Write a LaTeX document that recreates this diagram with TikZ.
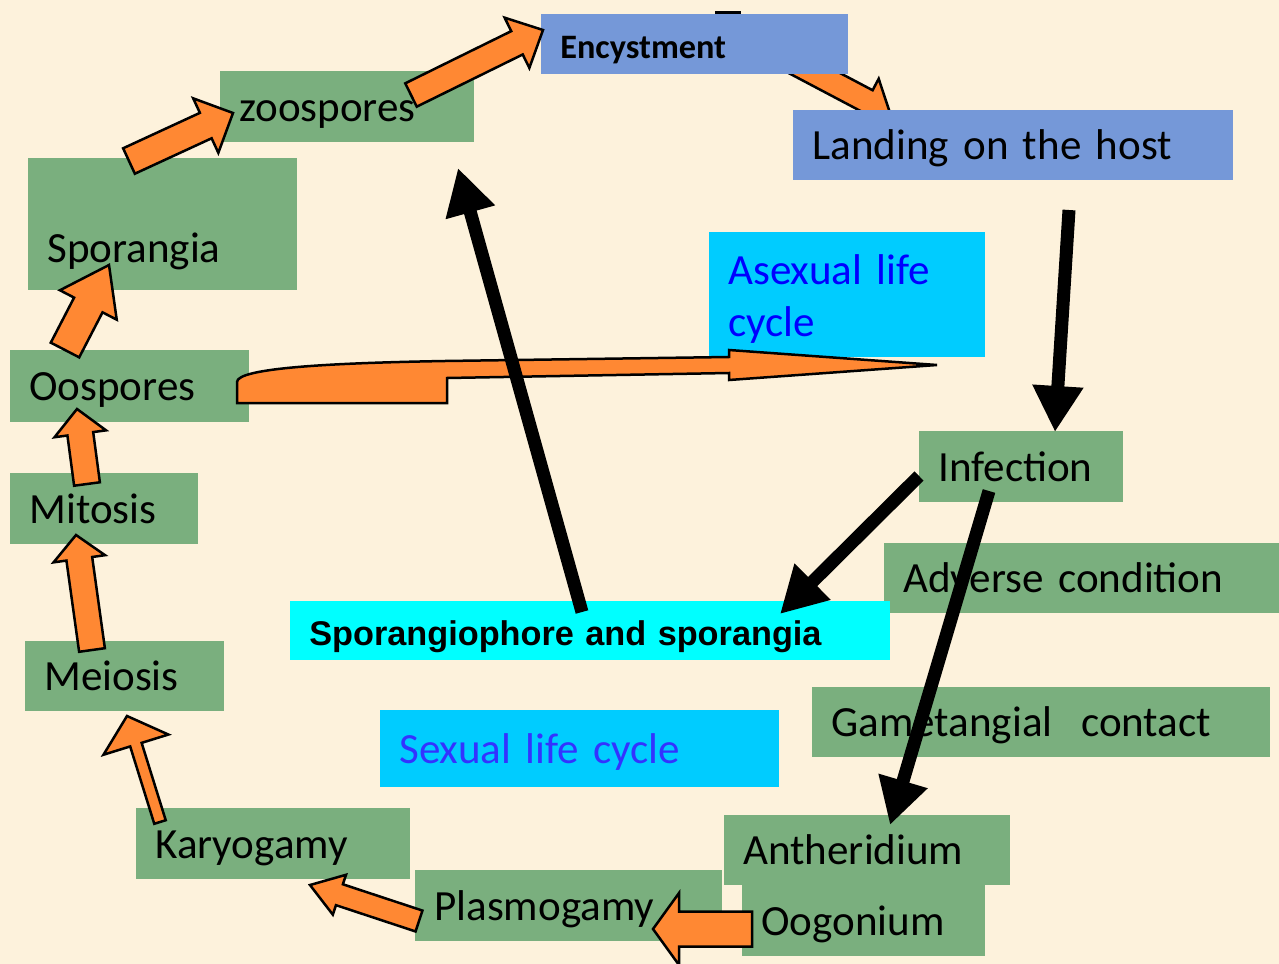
\documentclass[tikz,border=0pt]{standalone}
\usepackage{fontspec}
\setmainfont{Carlito}
\newfontfamily\arialfont{Liberation Sans}
\usetikzlibrary{arrows.meta,calc}
\newdimen\px \px=0.2mm
\definecolor{bgcream}{RGB}{253,242,220}
\definecolor{boxgreen}{RGB}{122,175,126}
\definecolor{boxblue}{RGB}{117,152,216}
\definecolor{skycyan}{RGB}{0,204,255}
\definecolor{sphcyan}{RGB}{0,255,255}
\definecolor{fatorange}{RGB}{255,136,51}
\definecolor{sexblue}{RGB}{51,51,255}
\tikzset{
    lbl/.style={anchor=north west, inner xsep=19\px, inner ysep=0pt, align=left,
        text height=37\px, text depth=8\px, font=\fontsize{24.5}{29.5}\selectfont}, % box with left text
    stage/.style={lbl, fill=boxgreen},
    host/.style={lbl, fill=boxblue},
    lifecycle/.style={lbl, fill=skycyan},
    fat/.style={fill=fatorange, draw=black, line width=2.5\px, line join=miter}, % orange block arrow
    bigblack/.style={line width=13\px, -{Triangle[length=9.2mm, width=9.6mm]}}
}
% block arrow: tail, tip, half shaft, half head, head length (in px)
\newcommand\fatarrow[5]{%
  \draw[fat] ($(#1)!{#3*0.2mm}!90:(#2)$)
    -- ($(#2)!{#5*0.2mm}!(#1)!{#3*0.2mm}!90:(#2)$)
    -- ($(#2)!{#5*0.2mm}!(#1)!{#4*0.2mm}!90:(#2)$)
    -- (#2)
    -- ($(#2)!{#5*0.2mm}!(#1)!{#4*0.2mm}!-90:(#2)$)
    -- ($(#2)!{#5*0.2mm}!(#1)!{#3*0.2mm}!-90:(#2)$)
    -- ($(#1)!{#3*0.2mm}!-90:(#2)$) -- cycle;}
\begin{document}
\begin{tikzpicture}[x=0.2mm, y=-0.2mm]
  \useasboundingbox (0,0) rectangle (1279,964);
  \clip (0,0) rectangle (1279,964);
  \fill[bgcream] (0,0) rectangle (1279,964);

  % arrow ends
  \coordinate (t-enc) at (765,47);   \coordinate (h-land) at (890,113);
  \coordinate (t-oosp) at (65,350);  \coordinate (h-spor) at (109,265);
  \coordinate (t-mit) at (87,484);   \coordinate (h-oosp) at (77,409);
  \coordinate (t-mei) at (92,650);   \coordinate (h-mit) at (76,535);
  \coordinate (t-kar) at (160,822);  \coordinate (h-mei) at (127,716);
  \coordinate (t-plas) at (419,921); \coordinate (h-kar) at (310,885);
  \coordinate (t-oog) at (752,929);  \coordinate (h-plas) at (653,929);
  \coordinate (t-spor) at (129,161); \coordinate (h-zoo) at (233,113);
  \coordinate (t-zoo) at (411,95);   \coordinate (h-enc) at (543,30);
  \coordinate (h-asx) at (937,365);

  % hidden under the blue boxes
  \fatarrow{t-enc}{h-land}{12}{25}{26}

  \node[host, text width=269\px, minimum height=60\px, font=\bfseries\fontsize{19.5}{23}\selectfont] (enc) at (541,14) {Encystment};
  \draw[line width=3\px] (715,13) -- (741,13);
  \node[host, text width=402\px, minimum height=70\px] (land) at (793,110) {Landing on the host};

  \node[stage, text width=216\px, minimum height=71\px] (zoo) at (220,71) {zoospores};
  \node[stage, text width=231\px, minimum height=132\px, text height=84\px] (spor) at (28,158) {Sporangia};
  \node[stage, text width=201\px, minimum height=72\px] (oosp) at (10,350) {Oospores};
  \node[stage, text width=150\px, minimum height=71\px] (mit) at (10,473) {Mitosis};
  \node[stage, text width=161\px, minimum height=70\px] (mei) at (25,641) {Meiosis};
  \node[stage, text width=236\px, minimum height=71\px] (kar) at (136,808) {Karyogamy};
  \node[stage, text width=269\px, minimum height=71\px] (plas) at (415,870) {Plasmogamy};
  \node[stage, text width=248\px, minimum height=70\px] (anth) at (724,815) {Antheridium};
  \node[stage, text width=205\px, minimum height=71\px] (oog) at (742,885) {Oogonium};
  \node[stage, text width=420\px, minimum height=70\px] (game) at (812,687) {Gametangial\ \ contact};
  \node[stage, text width=357\px, minimum height=70\px] (adv) at (884,543) {Adverse condition};
  \node[stage, text width=166\px, minimum height=71\px] (inf) at (919,431) {Infection};

  \node[lifecycle, text width=238\px, minimum height=125\px, text height=39\px, text depth=60\px, text=blue] (asx) at (709,232) {Asexual life\\cycle};
  \node[lifecycle, fill=sphcyan, text width=562\px, minimum height=59\px, font=\arialfont\bfseries\fontsize{19.5}{23}\selectfont] (sph) at (290,601) {Sporangiophore and sporangia};
  \node[lifecycle, text width=361\px, minimum height=77\px, text=sexblue] (sex) at (380,710) {Sexual life cycle};

  % orange steps of the cycle
  \foreach \src/\dst/\w/\hw/\hl in {t-oosp/h-spor/16/32/45, t-mit/h-oosp/13/26/25,
      t-mei/h-mit/13/26/24, t-kar/h-mei/6/34/30, t-plas/h-kar/11/21/31,
      t-oog/h-plas/17.5/36/26, t-spor/h-zoo/14/30/30, t-zoo/h-enc/13/28/29} {
    \fatarrow{\src}{\dst}{\w}{\hw}{\hl}
  }

  \draw[fat] (237,403) -- (237,382) .. controls (237,368) and (330,363) .. (445,361)
    -- (729,357) -- (729,350) -- (h-asx) -- (729,380) -- (729,373) -- (447,378) -- (447,403) -- cycle;

  % black arrows
  \coordinate (sph-top) at (582,612);   \coordinate (zoo-below) at (458,168);
  \coordinate (land-below) at (1069,210); \coordinate (inf-top) at (1055,432);
  \coordinate (inf-left) at (919,476);  \coordinate (sph-right) at (780,614);
  \coordinate (inf-low) at (989,491);   \coordinate (anth-top) at (890,825);
  \draw[bigblack] (sph-top) -- (zoo-below);
  \draw[bigblack] (land-below) -- (inf-top);
  \draw[bigblack] (inf-left) -- (sph-right);
  \draw[bigblack] (inf-low) -- (anth-top);
\end{tikzpicture}
\end{document}
